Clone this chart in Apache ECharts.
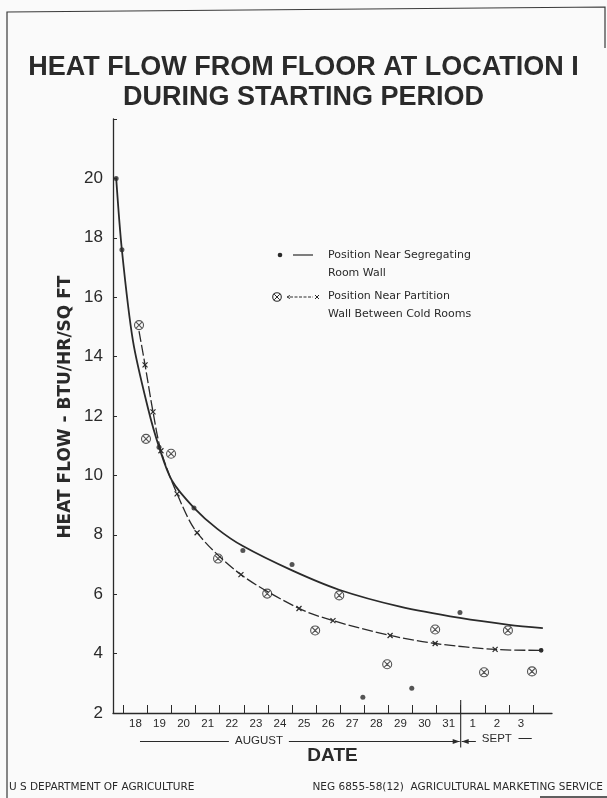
<!DOCTYPE html>
<html><head><meta charset="utf-8">
<script src="https://cdn.jsdelivr.net/npm/echarts@6/dist/echarts.min.js"></script>
<style>html,body{margin:0;padding:0;background:#fafafa;}#c{width:607px;height:798px;}</style>
</head><body><div id="c"></div>
<script>
// ---- data ----
// x in day units: Aug 18 = 18 ... Aug 31 = 31, Sept 1 = 32, Sept 2 = 33, Sept 3 = 34
const dayNums    = [18,19,20,21,22,23,24,25,26,27,28,29,30,31,32,33,34];
const dayLabels  = ['18','19','20','21','22','23','24','25','26','27','28','29','30','31','1','2','3'];
const tickPos    = [17.5,18.5,19.5,20.5,21.5,22.5,23.5,24.5,25.5,26.5,27.5,28.5,29.5,30.5,31.5,32.5,33.5,34.5];
const yTicks     = [2,4,6,8,10,12,14,16,18,20];

// Position Near Segregating Room Wall (dots)
const dotDay = [17.20, 17.44, 18.98, 20.43, 22.46, 24.50, 27.44, 29.47, 31.47];
const dotVal = [20.0, 17.6, 10.95, 8.9, 7.47, 7.0, 2.53, 2.83, 5.38];
// Position Near Partition Wall Between Cold Rooms (circled crosses)
const circDay = [18.15, 18.44, 19.48, 21.43, 23.47, 25.46, 26.46, 28.45, 30.44, 32.47, 33.46, 34.46];
const circVal = [15.06, 11.23, 10.73, 7.20, 6.02, 4.78, 5.96, 3.64, 4.81, 3.37, 4.78, 3.40];
// fitted curve, solid
const curve1Day = [17.20, 17.44, 17.90, 18.52, 18.98, 19.52, 20.43, 21.40, 22.46, 24.50, 26.45, 28.98, 31.47, 33.50, 34.91];
const curve1Val = [20.03, 17.58, 14.52, 12.27, 10.96, 9.82, 8.91, 8.20, 7.62, 6.80, 6.15, 5.58, 5.20, 4.97, 4.86];
// fitted curve, dashed with x marks
const curve2Day = [18.15, 18.40, 18.73, 19.06, 19.73, 20.56, 22.38, 24.79, 26.20, 28.57, 30.44, 32.93, 34.84];
const curve2Val = [14.86, 13.72, 12.14, 10.83, 9.38, 8.07, 6.66, 5.52, 5.11, 4.61, 4.34, 4.14, 4.11];

const INK = '#2a2a2a';
const SANS = 'Liberation Sans';
const CROSS = 'path://M0,0L10,10M10,0L0,10';
const OTIMES = 'path://M0,10A10,10,0,1,1,20,10A10,10,0,1,1,0,10ZM3.5,3.5L16.5,16.5M16.5,3.5L3.5,16.5';

const zip = (a, b) => a.map((v, i) => [v, b[i]]);
const curve2Data = curve2Day.map((d, i) => {
  const item = { value: [d, curve2Val[i]] };
  if (i === 0) item.symbol = 'none';
  if (i === curve2Day.length - 1) { item.symbol = 'circle'; item.symbolSize = 3.5; item.itemStyle = { color: INK, borderColor: INK }; }
  return item;
});

const chart = echarts.init(document.getElementById('c'), null, { renderer: 'canvas' });
chart.setOption({
  backgroundColor: '#fafafa',
  animation: false,
  title: {
    text: 'HEAT FLOW FROM FLOOR AT LOCATION I\nDURING STARTING PERIOD',
    left: 'center', top: 48, padding: [5, 0, 5, 7],
    textStyle: { fontFamily: SANS, fontWeight: 'bold', fontSize: 27, lineHeight: 29.5, color: '#2a2a2a' }
  },
  grid: { left: 113, top: 119, right: 55, bottom: 85, outerBoundsMode: 'none' },
  xAxis: {
    type: 'value', min: 17.07, max: 35.29,
    axisLine: { show: true, lineStyle: { color: INK, width: 1.3 } },
    axisTick: { show: true, inside: true, length: 8, customValues: tickPos, lineStyle: { color: INK, width: 1 } },
    axisLabel: {
      customValues: dayNums, margin: 5, fontSize: 11.5, fontFamily: SANS, color: INK,
      formatter: v => dayLabels[dayNums.indexOf(Math.round(v))]
    },
    splitLine: { show: false },
    name: 'DATE', nameLocation: 'middle', nameGap: 33,
    nameTextStyle: { fontFamily: SANS, fontWeight: 'bold', fontSize: 19, color: INK }
  },
  yAxis: {
    type: 'value', min: 2, max: 22, interval: 2,
    axisLine: { show: true, lineStyle: { color: INK, width: 1.3 } },
    axisTick: { show: true, inside: true, length: 4, lineStyle: { color: INK, width: 1 } },
    axisLabel: { customValues: yTicks, margin: 10, fontSize: 17, fontFamily: SANS, color: INK },
    splitLine: { show: false }
  },
  series: [
    { name: 'curve1', type: 'line', data: zip(curve1Day, curve1Val), smooth: 0.3,
      showSymbol: false, lineStyle: { color: INK, width: 1.8 }, silent: true, z: 2 },
    { name: 'curve2', type: 'line', data: curve2Data, smooth: 0.3,
      symbol: CROSS, symbolSize: 5, showAllSymbol: true,
      itemStyle: { color: 'rgba(0,0,0,0)', borderColor: INK, borderWidth: 1.2 },
      lineStyle: { color: INK, width: 1.3, type: [11, 3] }, silent: true, z: 2 },
    { name: 'Position Near Segregating Room Wall', type: 'scatter', data: zip(dotDay, dotVal),
      symbol: 'circle', symbolSize: 5, itemStyle: { color: INK }, silent: true, z: 3 },
    { name: 'Position Near Partition Wall Between Cold Rooms', type: 'scatter', data: zip(circDay, circVal),
      symbol: OTIMES, symbolSize: 9, itemStyle: { color: 'rgba(0,0,0,0)', borderColor: INK, borderWidth: 1.1 }, silent: true, z: 3 }
  ]
});

const X = v => chart.convertToPixel({ xAxisIndex: 0 }, v);
const Y = v => chart.convertToPixel({ yAxisIndex: 0 }, v);
const axisY = Y(2);
const bandY = axisY + 28.5;
const ln = (x1, y1, x2, y2, w, dash) => ({ type: 'line', shape: { x1, y1, x2, y2 }, style: { stroke: INK, lineWidth: w || 1.1, lineDash: dash || null }, silent: true });
const txt = (x, y, text, font, align, extra) => ({ type: 'text', x, y, style: Object.assign({ text, font, fill: INK, align: align || 'left', verticalAlign: 'middle' }, extra || {}), silent: true });

const divX = X(31.5);
const graphic = [
  // frame
  { type: 'polyline', shape: { points: [[7, 798], [7, 12], [605, 7], [605, 48]] }, style: { stroke: '#3a3a3a', lineWidth: 1.2, fill: null }, silent: true },
  ln(540, 797, 607, 797, 1.6),
  // y axis title
  { type: 'text', x: 66, y: Y(12.3), rotation: Math.PI / 2,
    style: { text: 'HEAT FLOW - BTU/HR/SQ FT', font: 'bold 17px "DejaVu Sans"', fill: INK, align: 'center', verticalAlign: 'middle' }, silent: true },
  // month bands
  ln(divX, axisY - 13, divX, bandY + 6, 1.1),
  ln(X(18.19), bandY, X(21.88), bandY, 1),
  txt(X(23.13), bandY - 1, 'AUGUST', '11.5px "Liberation Sans"', 'center'),
  ln(X(24.37), bandY, divX - 1, bandY, 1),
  { type: 'polygon', shape: { points: [[divX - 1, bandY], [divX - 8, bandY - 2.5], [divX - 8, bandY + 2.5]] }, style: { fill: INK }, silent: true },
  { type: 'polygon', shape: { points: [[divX + 1, bandY], [divX + 8, bandY - 2.5], [divX + 8, bandY + 2.5]] }, style: { fill: INK }, silent: true },
  ln(divX + 1, bandY, X(32.13), bandY, 1),
  txt(X(33.0), bandY - 3, 'SEPT', '11.5px "Liberation Sans"', 'center'),
  ln(X(33.9), bandY - 3, X(34.45), bandY - 3, 1),
  // legend
  { type: 'circle', shape: { cx: 280, cy: 255, r: 2.3 }, style: { fill: INK }, silent: true },
  ln(293, 255, 313, 255, 1.2),
  txt(328, 246, 'Position Near Segregating\nRoom Wall', '11px "DejaVu Sans"', 'left', { verticalAlign: 'top', lineHeight: 18 }),
  { type: 'circle', shape: { cx: 277, cy: 297, r: 4.3 }, style: { fill: null, stroke: INK, lineWidth: 1.1 }, silent: true },
  ln(274.2, 294.2, 279.8, 299.8, 1), ln(279.8, 294.2, 274.2, 299.8, 1),
  ln(287, 297, 290, 295.5, 1), ln(287, 297, 290, 298.5, 1),
  ln(290, 297, 313, 297, 1, [3, 1.5]),
  ln(315, 295, 319, 299, 1), ln(319, 295, 315, 299, 1),
  txt(328, 287, 'Position Near Partition\nWall Between Cold Rooms', '11px "DejaVu Sans"', 'left', { verticalAlign: 'top', lineHeight: 18 }),
  // footer
  txt(9, 787, 'U S DEPARTMENT OF AGRICULTURE', '10.5px "DejaVu Sans"', 'left'),
  txt(603, 787, 'NEG 6855-58(12)  AGRICULTURAL MARKETING SERVICE', '10.5px "DejaVu Sans"', 'right')
];
chart.setOption({ graphic });
</script></body></html>
